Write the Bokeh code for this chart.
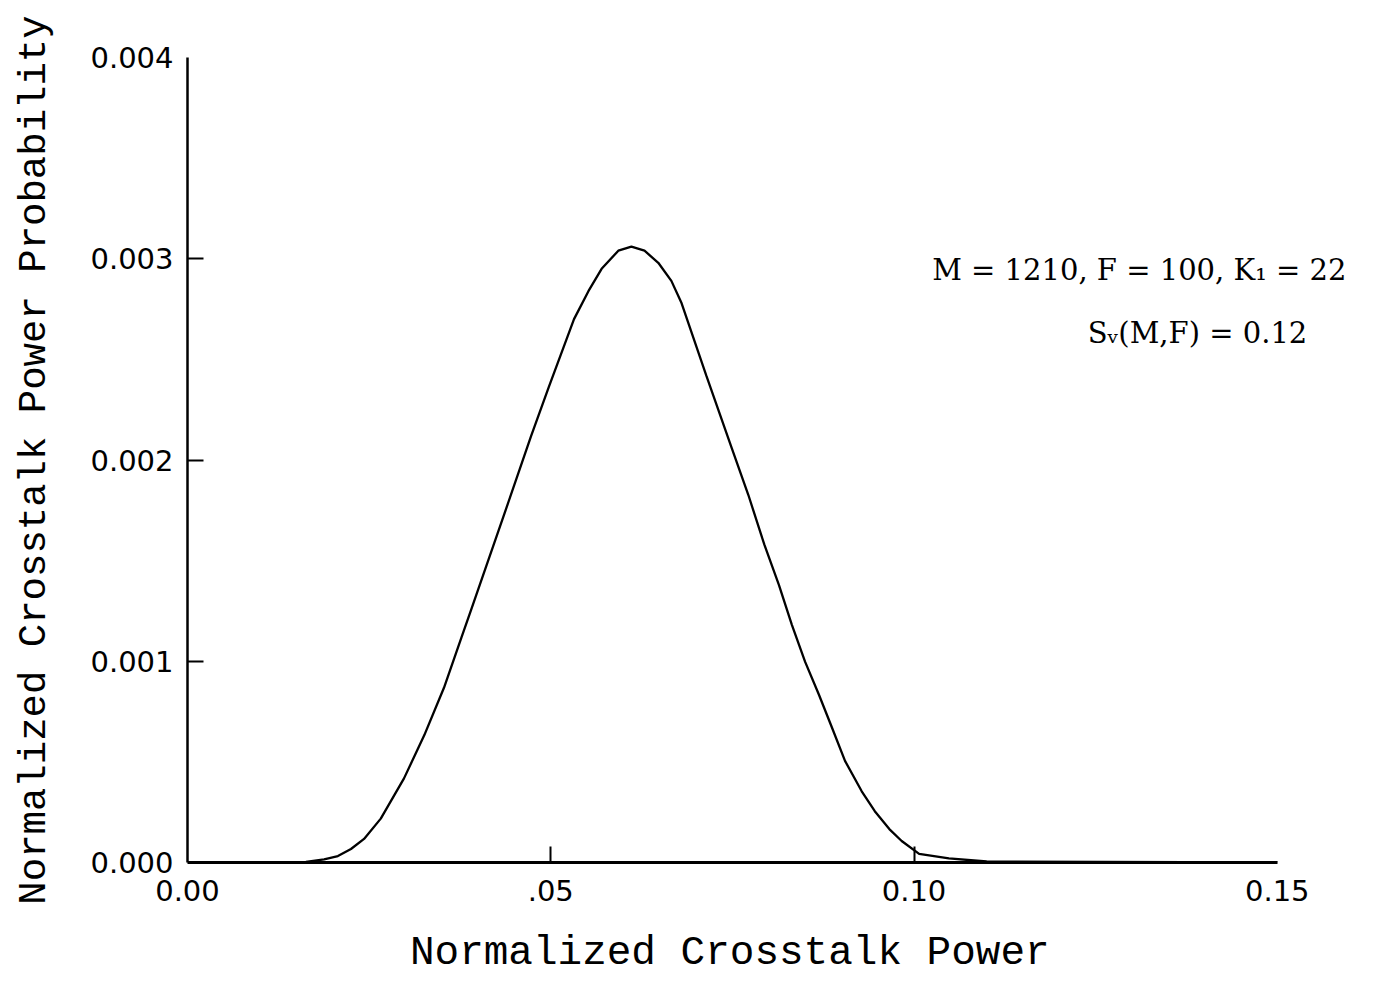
from bokeh.plotting import figure
from bokeh.models import FixedTicker, Label, Range1d
from bokeh.embed import file_html
from bokeh.resources import INLINE

# Curve
x_vals = [0.0, 0.0163, 0.0188, 0.0207, 0.0225, 0.0243, 0.0266, 0.0298, 0.0326, 0.0353,
          0.0377, 0.0390, 0.0436, 0.0473, 0.0497, 0.0532, 0.0552, 0.0570, 0.0593, 0.0611,
          0.0629, 0.0648, 0.0666, 0.0680, 0.0714, 0.0749, 0.0772, 0.0794, 0.0814, 0.0832,
          0.0850, 0.0869, 0.0887, 0.0905, 0.0928, 0.0946, 0.0966, 0.0983, 0.1007, 0.1048,
          0.1100, 0.1500]
y_vals = [0.0, 0.000003, 0.000016, 0.000032, 0.000067, 0.000117, 0.000218, 0.000418, 0.000633, 0.000868,
          0.001117, 0.001252, 0.001731, 0.00212, 0.00236, 0.00270, 0.00284, 0.00295, 0.00304, 0.00306,
          0.00304, 0.00298, 0.00289, 0.00278, 0.00242, 0.00206, 0.001826, 0.001579, 0.00138, 0.00118,
          0.000998, 0.000835, 0.000671, 0.000505, 0.000354, 0.000255, 0.000166, 0.000107, 0.000043, 0.000020,
          0.000005, 0.0]

x_ticks = [0.0, 0.05, 0.10, 0.15]
x_tick_labels = ["0.00", ".05", "0.10", "0.15"]
x_tick_marks = [0.05, 0.10]
y_ticks = [0.0, 0.001, 0.002, 0.003, 0.004]
y_tick_labels = ["0.000", "0.001", "0.002", "0.003", "0.004"]
y_tick_marks = [0.001, 0.002, 0.003]

x_title = "Normalized Crosstalk Power"
y_title = "Normalized Crosstalk Power Probability"
note_1 = "M = 1210, F = 100, K\u2081 = 22"
note_2 = "S\u1d65(M,F) = 0.12"

p = figure(width=1380, height=983, output_backend="svg", toolbar_location=None,
           x_range=Range1d(0, 0.16283), y_range=Range1d(0, 0.004),
           min_border_left=187, min_border_right=10, min_border_top=57, min_border_bottom=121)
p.outline_line_color = None
p.grid.visible = False
p.background_fill_color = "white"
p.border_fill_color = "white"

p.line(x_vals, y_vals, line_color="black", line_width=2.3)

for ax in (p.xaxis[0], p.yaxis[0]):
    ax.axis_line_color = "black"
    ax.major_tick_line_color = None
    ax.major_tick_in = 0
    ax.major_tick_out = 0
    ax.minor_tick_line_color = "black"
    ax.minor_tick_line_width = 2
    ax.minor_tick_in = 16
    ax.minor_tick_out = 0
    ax.major_label_text_font = "DejaVu Sans"
    ax.major_label_text_font_size = "29px"
    ax.major_label_text_color = "black"
    ax.axis_label_text_font = "Liberation Mono"
    ax.axis_label_text_font_style = "normal"
    ax.axis_label_text_color = "black"

p.xaxis[0].axis_label_text_font_size = "41px"
p.yaxis[0].axis_label_text_font_size = "39px"
p.xaxis[0].axis_line_width = 3
p.yaxis[0].axis_line_width = 2.5
p.xaxis[0].bounds = (0, 0.15)
p.xaxis[0].ticker = FixedTicker(ticks=x_ticks, minor_ticks=x_tick_marks)
p.yaxis[0].ticker = FixedTicker(ticks=y_ticks, minor_ticks=y_tick_marks)
p.xaxis[0].major_label_overrides = dict(zip(x_ticks, x_tick_labels))
p.yaxis[0].major_label_overrides = dict(zip(y_ticks, y_tick_labels))
p.xaxis[0].major_label_standoff = 17
p.yaxis[0].major_label_standoff = 14
# trailing no-break spaces keep the title centred under the 0-0.15 axis
p.xaxis[0].axis_label = x_title + "\u00a0" * 4
p.yaxis[0].axis_label = y_title
p.xaxis[0].axis_label_standoff = 26
p.yaxis[0].axis_label_standoff = 30

p.add_layout(Label(x=0.1025, y=0.002945, text=note_1, text_font="DejaVu Serif",
                   text_font_size="29px", text_baseline="middle", text_color="black"))
p.add_layout(Label(x=0.1239, y=0.002632, text=note_2, text_font="DejaVu Serif",
                   text_font_size="29px", text_baseline="middle", text_color="black"))

open("out.html", "w").write(file_html(p, INLINE))
